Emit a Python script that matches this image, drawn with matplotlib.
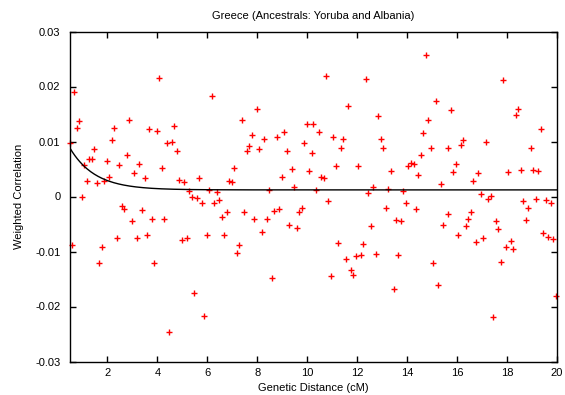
#!/usr/bin/env python3
from __future__ import annotations

from pathlib import Path

import matplotlib

matplotlib.use("Agg")
import matplotlib.pyplot as plt
import numpy as np

OUT = Path("out.png")

TITLE = "Greece (Ancestrals: Yoruba and Albania)"
X_LABEL = "Genetic Distance (cM)"
Y_LABEL = "Weighted Correlation"

X_TICKS = [2, 4, 6, 8, 10, 12, 14, 16, 18, 20]
Y_TICKS = [-0.03, -0.02, -0.01, 0.0, 0.01, 0.02, 0.03]
Y_TICK_LABELS = ["-0.03", "-0.02", "-0.01", "0", "0.01", "0.02", "0.03"]

# binned weighted correlation
dist_cm = [
    0.50, 0.68, 0.88, 0.77, 2.28, 2.88, 3.68, 3.97, 4.08, 4.68,
    2.17, 4.37, 4.59, 4.77, 1.48, 1.28, 1.37, 1.08, 1.97, 2.48,
    2.79, 3.28, 3.08, 4.19, 3.49, 2.08, 1.19, 1.57, 1.85, 4.88,
    5.08, 5.25, 0.99, 2.57, 2.68, 3.37, 2.97, 3.79, 4.28, 0.59,
    1.77, 2.37, 3.17, 3.59, 4.97, 5.17, 1.68, 3.88, 4.48,
    6.17, 7.97, 7.37, 9.97, 10.24, 7.77, 9.05, 8.25, 8.77, 9.85,
    7.68, 7.57, 8.08, 9.17, 10.17, 7.08, 8.97, 9.37, 10.05, 5.68,
    6.85, 6.99, 5.37, 5.59, 5.77, 6.08, 6.37, 6.25, 6.48, 6.77,
    6.57, 7.48, 7.85, 8.37, 8.65, 8.88, 8.17, 8.48, 9.45, 9.28,
    9.57, 9.68, 9.77, 5.97, 6.68, 7.28, 7.17, 8.57, 5.48, 5.88,
    14.75, 10.77, 12.37, 15.17, 11.65, 12.85, 14.85, 10.48, 11.05, 11.45,
    12.96, 14.65, 11.37, 13.05, 14.96, 14.55, 11.17, 12.05, 13.35, 14.05,
    14.15, 14.27, 14.45, 10.57, 10.67, 10.37, 10.85, 12.45, 12.65, 13.25,
    13.85, 13.95, 14.35, 13.15, 13.55, 13.77, 12.56, 11.25, 12.25, 11.57,
    11.97, 12.17, 12.77, 13.65, 11.76, 11.85, 10.97, 13.47, 15.04, 15.25,
    17.84, 15.75, 18.45, 18.35, 19.35, 16.25, 16.15, 17.15, 15.65, 18.95,
    15.95, 15.85, 16.85, 18.04, 18.55, 19.04, 19.24, 16.65, 15.35, 16.95,
    17.25, 17.37, 18.65, 18.85, 19.15, 19.55, 19.75, 15.65, 15.45, 16.55,
    16.45, 16.35, 16.04, 16.75, 17.05, 17.55, 17.65, 17.95, 18.16, 18.25,
    18.75, 19.44, 19.65, 19.85, 17.75, 19.95, 17.45,
]
weighted_corr = [
    0.0098, 0.0190, 0.0137, 0.0124, 0.0124, 0.0139, 0.0123, 0.0120, 0.0215, 0.0129,
    0.0103, 0.0098, 0.0099, 0.0083, 0.0086, 0.0068, 0.0069, 0.0057, 0.0065, 0.0057,
    0.0075, 0.0060, 0.0043, 0.0051, 0.0033, 0.0035, 0.0029, 0.0024, 0.0028, 0.0030,
    0.0027, 0.0010, -0.0001, -0.0017, -0.0023, -0.0025, -0.0045, -0.0040, -0.0041, -0.0088,
    -0.0092, -0.0075, -0.0075, -0.0070, -0.0079, -0.0076, -0.0120, -0.0121, -0.0247,
    0.0183, 0.0160, 0.0140, 0.0132, 0.0131, 0.0112, 0.0117, 0.0104, 0.0108, 0.0098,
    0.0092, 0.0083, 0.0086, 0.0083, 0.0079, 0.0051, 0.0036, 0.0050, 0.0047, 0.0033,
    0.0029, 0.0026, 0.0000, -0.0003, -0.0012, 0.0012, 0.0008, -0.0012, -0.0006, -0.0028,
    -0.0037, -0.0029, -0.0040, -0.0041, -0.0026, -0.0023, -0.0064, 0.0012, 0.0018, -0.0051,
    -0.0058, -0.0029, -0.0021, -0.0070, -0.0070, -0.0089, -0.0103, -0.0149, -0.0176, -0.0217,
    0.0257, 0.0219, 0.0213, 0.0174, 0.0165, 0.0146, 0.0139, 0.0117, 0.0109, 0.0104,
    0.0104, 0.0115, 0.0088, 0.0089, 0.0088, 0.0075, 0.0055, 0.0055, 0.0047, 0.0055,
    0.0061, 0.0059, 0.0040, 0.0035, 0.0033, 0.0012, -0.0009, 0.0006, 0.0018, 0.0014,
    0.0010, -0.0011, -0.0023, -0.0021, -0.0043, -0.0045, -0.0054, -0.0085, -0.0086, -0.0114,
    -0.0108, -0.0106, -0.0105, -0.0106, -0.0134, -0.0142, -0.0145, -0.0169, -0.0120, -0.0161,
    0.0212, 0.0157, 0.0159, 0.0148, 0.0123, 0.0103, 0.0094, 0.0099, 0.0089, 0.0089,
    0.0060, 0.0045, 0.0042, 0.0044, 0.0048, 0.0049, 0.0047, 0.0029, 0.0023, 0.0005,
    -0.0005, 0.0001, -0.0008, -0.0021, -0.0005, -0.0006, -0.0012, -0.0032, -0.0051, -0.0029,
    -0.0041, -0.0053, -0.0070, -0.0083, -0.0076, -0.0044, -0.0059, -0.0091, -0.0080, -0.0095,
    -0.0043, -0.0066, -0.0073, -0.0078, -0.0119, -0.0181, -0.0219,
]

# exponential fit  A * exp(-k d) + c
FIT_A = 0.0125
FIT_K = 1.0
FIT_C = 0.0012


def plot() -> None:
    plt.rcParams.update(
        {
            "font.family": ["Liberation Sans", "DejaVu Sans"],
            "font.size": 8,
            "axes.linewidth": 1.0,
        }
    )

    fig = plt.figure(figsize=(5.65, 3.95), dpi=100)
    ax = fig.add_axes([70 / 565, 1 - 361.5 / 395, 487 / 565, 330 / 395])

    ax.plot(dist_cm, weighted_corr, "+", color="#ff0000", ms=5, mew=1.0, clip_on=False)

    d = np.linspace(0.5, 20, 400)
    ax.plot(d, FIT_A * np.exp(-FIT_K * d) + FIT_C, color="black", lw=1.0)

    ax.set_xlim(0.5, 20)
    ax.set_ylim(-0.03, 0.03)
    ax.set_xticks(X_TICKS)
    ax.set_xticklabels([str(t) for t in X_TICKS])
    ax.set_yticks(Y_TICKS)
    ax.set_yticklabels(Y_TICK_LABELS)
    ax.tick_params(direction="in", top=True, right=True, length=4, width=1.0)
    ax.tick_params(axis="y", pad=7)
    ax.tick_params(axis="x", pad=5)

    ax.set_title(TITLE, fontsize=8, pad=9)
    ax.set_xlabel(X_LABEL, labelpad=3)
    ax.set_ylabel(Y_LABEL, labelpad=8)

    fig.savefig(OUT, dpi=100)
    plt.close(fig)


def main() -> int:
    plot()
    print("[ok] saved:", OUT)
    return 0


if __name__ == "__main__":
    raise SystemExit(main())
